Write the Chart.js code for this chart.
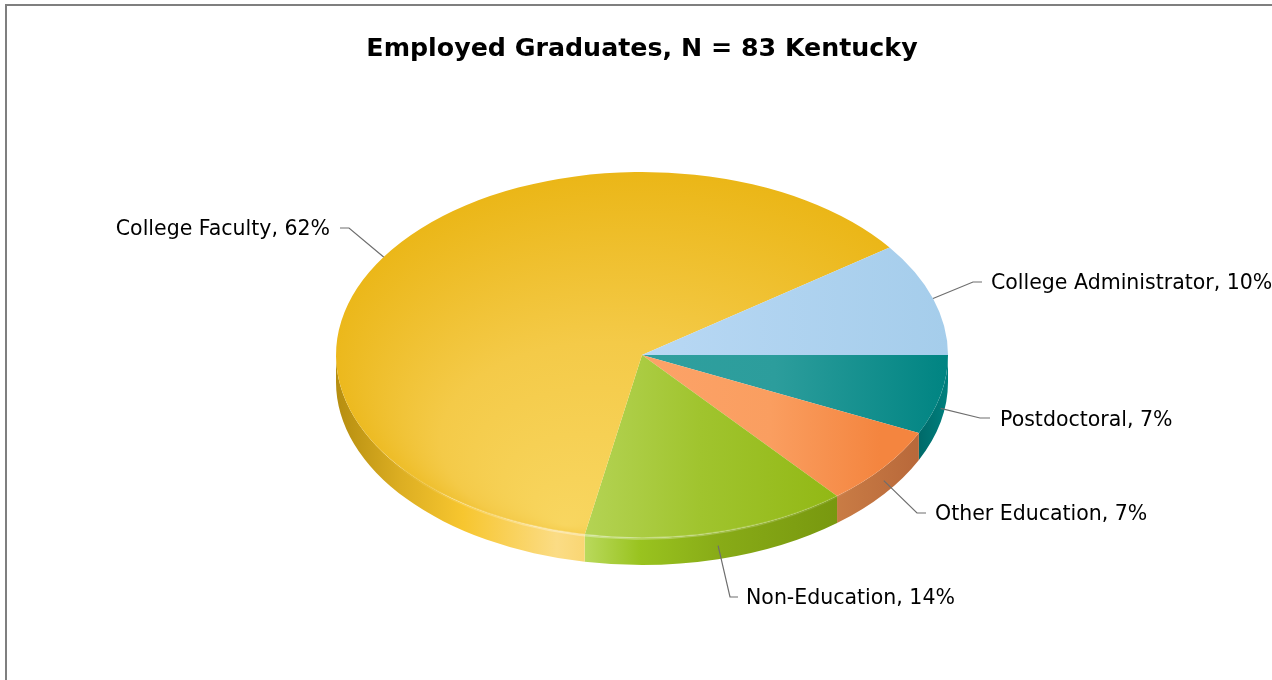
<!DOCTYPE html>
<html><head><meta charset="utf-8">
<style>
html,body{margin:0;padding:0;background:#fff;overflow:hidden}
#frame{position:absolute;left:5px;top:4px;right:0;bottom:0;border-top:2px solid #7f7f7f;border-left:2px solid #7f7f7f;pointer-events:none}
canvas{position:absolute;left:0;top:0}
</style>
<script src="https://cdn.jsdelivr.net/npm/chart.js@4"></script>
</head><body>
<canvas id="c" width="1272" height="680" style="width:1272px;height:680px"></canvas>
<div id="frame"></div>
<script>
const titleText = "Employed Graduates, N = 83 Kentucky";
const categories = ["Postdoctoral", "Other Education", "Non-Education", "College Faculty", "College Administrator"];
const percents = [7, 7, 14, 62, 10];

const TILT = 0.598, DEPTH = 27, RADIUS = 306;
// top-face shading per slice: horizontal stops [x, colour] or a focal radial gradient
const topShades = [
  {stops:[[660,"#2f9f9e"],[775,"#2c9d9c"],[948,"#008482"]]},
  {stops:[[660,"#fca267"],[770,"#fa9e60"],[880,"#f4853f"]]},
  {stops:[[585,"#b4d354"],[700,"#a0c42e"],[835,"#92b815"]]},
  {focus:[565,525], stops:[[0,"#f8d660"],[0.5,"#f4ca48"],[1,"#eab514"]]},
  {stops:[[650,"#b8d8f4"],[948,"#a5cdeb"]]}
];
// side wall horizontal gradient per slice: [x, colour]
const wallShades = [
  [[919,"#006a69"],[948,"#00807e"]],
  [[837,"#c97c45"],[919,"#b8683a"]],
  [[585,"#b9d95c"],[640,"#99c31f"],[720,"#88ab17"],[837,"#78980f"]],
  [[337,"#b68e10"],[400,"#dcae22"],[463,"#f7c62f"],[557,"#fbdc85"],[585,"#f9d673"]],
  []
];
// leader layout: elbow, stub end, text anchor
const leaders = [
  {onWall:true, ex:980,ey:418,sx:990,tx:1000,ty:421,align:"left"},
  {onWall:true, ex:917,ey:513,sx:926,tx:935,ty:515,align:"left"},
  {onWall:true, ex:730,ey:597,sx:738,tx:746,ty:599,align:"left"},
  {onWall:false,ex:349,ey:228,sx:340,tx:330,ty:230,align:"right"},
  {onWall:false,ex:973,ey:282,sx:982,tx:991,ty:284,align:"left"}
];

function squash(ctx, cy){ ctx.translate(0, cy); ctx.scale(1, TILT); ctx.translate(0, -cy); }

function topGradient(c){
  const chart = c.chart, s = topShades[c.dataIndex];
  if (!s) return "#ccc";
  if (!chart.chartArea) return s.stops[0][1];
  const area = chart.chartArea, midX = (area.left + area.right)/2, midY = (area.top + area.bottom)/2;
  if (s.focus) {
    const fy = midY + (s.focus[1] - midY)/TILT;
    const g = chart.ctx.createRadialGradient(s.focus[0], fy, 0, midX, midY, RADIUS + 20);
    s.stops.forEach(p => g.addColorStop(p[0], p[1]));
    return g;
  }
  const x0 = s.stops[0][0], x1 = s.stops[s.stops.length-1][0];
  const g = chart.ctx.createLinearGradient(x0, 0, x1, 0);
  s.stops.forEach(p => g.addColorStop((p[0]-x0)/(x1-x0), p[1]));
  return g;
}

const pie3d = {
  id: "pie3d",
  beforeDatasetDraw(chart){
    const ctx = chart.ctx, arcs = chart.getDatasetMeta(0).data;
    arcs.forEach((a, i) => {
      const from = Math.max(a.startAngle, 0), to = Math.min(a.endAngle, Math.PI);
      if (to <= from) return;
      const x0 = a.x + a.outerRadius*Math.cos(to), x1 = a.x + a.outerRadius*Math.cos(from);
      const g = ctx.createLinearGradient(x0, 0, x1, 0);
      wallShades[i].forEach(p => g.addColorStop(Math.min(1, Math.max(0, (p[0]-x0)/(x1-x0))), p[1]));
      ctx.beginPath();
      ctx.ellipse(a.x, a.y, a.outerRadius, a.outerRadius*TILT, 0, from, to);
      ctx.ellipse(a.x, a.y + DEPTH, a.outerRadius, a.outerRadius*TILT, 0, to, from, true);
      ctx.closePath();
      ctx.fillStyle = g; ctx.fill();
    });
    ctx.save();
    squash(ctx, arcs[0].y);
  },
  afterDatasetDraw(chart){
    const ctx = chart.ctx, arcs = chart.getDatasetMeta(0).data;
    ctx.restore();
    const a = arcs[0];
    // pale rim along the front edge
    const rim = ctx.createLinearGradient(a.x - RADIUS, 0, a.x + RADIUS, 0);
    rim.addColorStop(0.07,"rgba(255,255,255,0)");
    rim.addColorStop(0.38,"rgba(255,255,255,0.35)");
    rim.addColorStop(0.6,"rgba(255,255,255,0.25)");
    rim.addColorStop(0.8,"rgba(255,255,255,0.1)");
    rim.addColorStop(0.85,"rgba(255,255,255,0)");
    ctx.beginPath();
    ctx.ellipse(a.x, a.y + 0.5, a.outerRadius, a.outerRadius*TILT, 0, 0.4, Math.PI - 0.1);
    ctx.lineWidth = 2.5; ctx.strokeStyle = rim; ctx.stroke();
    // leaders and labels
    ctx.font = '20.5px "DejaVu Sans"';
    ctx.textBaseline = "middle";
    arcs.forEach((arc, i) => {
      const m = (arc.startAngle + arc.endAngle)/2, L = leaders[i];
      const ax = arc.x + arc.outerRadius*Math.cos(m);
      const ay = arc.y + arc.outerRadius*TILT*Math.sin(m) + (L.onWall ? DEPTH/2 : 0);
      ctx.beginPath(); ctx.moveTo(ax, ay); ctx.lineTo(L.ex, L.ey); ctx.lineTo(L.sx, L.ey);
      ctx.lineWidth = 1.2; ctx.strokeStyle = "#6e6e6e"; ctx.stroke();
      ctx.fillStyle = "#000"; ctx.textAlign = L.align;
      ctx.fillText(categories[i] + ", " + percents[i] + "%", L.tx, L.ty);
    });
  }
};

new Chart(document.getElementById("c"), {
  type: "pie",
  plugins: [pie3d],
  data: { labels: categories, datasets: [{ data: percents, backgroundColor: topGradient, borderWidth: 0, radius: RADIUS }] },
  options: {
    responsive: false, animation: false, devicePixelRatio: 1,
    rotation: 90,
    layout: { padding: { left: 12, right: 0, top: 0, bottom: 40.4 } },
    events: [],
    plugins: {
      legend: { display: false }, tooltip: { enabled: false },
      title: { display: true, text: titleText, color: "#000",
        font: { family: '"DejaVu Sans"', size: 25.3, weight: "bold" },
        padding: { top: 34.5, bottom: 5.5 } }
    }
  }
});
</script>
</body></html>
